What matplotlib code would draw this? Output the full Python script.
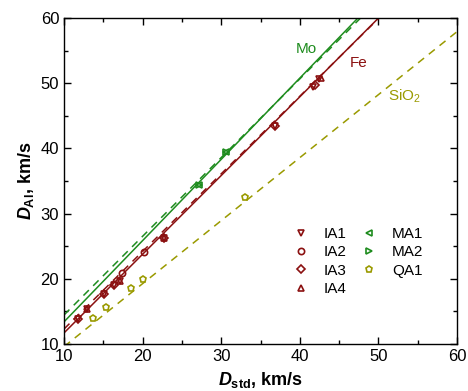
import numpy as np
import matplotlib
matplotlib.use("Agg")
import matplotlib.pyplot as plt

plt.rcParams['font.family'] = ['Liberation Sans', 'DejaVu Sans']
plt.rcParams['mathtext.fontset'] = 'custom'
plt.rcParams['mathtext.rm'] = 'Liberation Sans:bold'
plt.rcParams['mathtext.it'] = 'Liberation Sans:italic:bold'
plt.rcParams['mathtext.bf'] = 'Liberation Sans:bold'

c_fe = '#8b1010'
c_mo = '#1e8c1e'
c_si = '#9a9a00'

# данные (км/с)
ia1_x = [11.8, 12.97, 15.1, 16.3, 17.1, 22.7, 36.8, 41.7, 42.5]
ia1_y = [13.8, 15.4, 17.7, 19.05, 19.66, 26.3, 43.5, 49.4, 50.6]
ia2_x = [17.4, 20.2]
ia2_y = [20.84, 24.1]
ia3_x = [11.8, 15.1, 16.3, 22.7, 36.8, 41.9]
ia3_y = [13.8, 17.7, 19.05, 26.3, 43.5, 49.7]
ia4_x = [12.97, 17.1, 22.7, 42.7]
ia4_y = [15.4, 19.66, 26.3, 50.8]
ma1_x = [27.2, 30.6]
ma1_y = [34.4, 39.4]
ma2_x = [27.2, 30.6]
ma2_y = [34.4, 39.4]
qa1_x = [13.65, 15.34, 18.5, 20.0, 33.0]
qa1_y = [14.0, 15.6, 18.6, 19.9, 32.6]

# прямые: (D при 10 км/с, наклон)
mo_fit = (13.4, 1.246)
mo_dash = (14.45, 1.207)
fe_fit = (11.7, 1.207)
fe_dash = (12.3, 1.19)
si_dash = (9.6, 0.966)

fig = plt.figure(figsize=(4.68, 3.91), dpi=100)
ax = fig.add_axes([0.1368, 0.1202, 0.8397, 0.8338])

xx = np.linspace(10, 60, 200)
def line(p):
    return p[0] + p[1] * (xx - 10)

ax.plot(xx, line(mo_fit), color=c_mo, lw=1.1)
ax.plot(xx, line(mo_dash), color=c_mo, lw=1.1, ls=(0, (5, 4)))
ax.plot(xx, line(fe_fit), color=c_fe, lw=1.1)
ax.plot(xx, line(fe_dash), color=c_fe, lw=1.1, ls=(0, (5, 4)))
ax.plot(xx, line(si_dash), color=c_si, lw=1.1, ls=(0, (5, 4)))

ms = 7
kw = dict(ls='none', mfc='none', mew=1.5, ms=ms)
ax.plot(ia1_x, ia1_y, marker='v', color=c_fe, label='IA1', **kw)
ax.plot(ia2_x, ia2_y, marker='o', color=c_fe, label='IA2', **kw)
ax.plot(ia3_x, ia3_y, marker='D', color=c_fe, label='IA3', ls='none', mfc='none', mew=1.5, ms=6)
ax.plot(ia4_x, ia4_y, marker='^', color=c_fe, label='IA4', **kw)
ax.plot(ma1_x, ma1_y, marker='<', color=c_mo, label='MA1', **kw)
ax.plot(ma2_x, ma2_y, marker='>', color=c_mo, label='MA2', **kw)
ax.plot(qa1_x, qa1_y, marker='p', color=c_si, label='QA1', **kw)

h, l = ax.get_legend_handles_labels()
for hh in h:
    hh.set_markersize(4.5)
    hh.set_markeredgewidth(1.2)
leg = ax.legend(h, l, ncol=2,
                loc='lower left', bbox_to_anchor=(0.545, 0.105), frameon=False,
                fontsize=11, handlelength=1.2, handletextpad=0.9,
                columnspacing=0.85, labelspacing=0.28)

ax.text(40.85, 55.25, 'Mo', color=c_mo, fontsize=11, ha='center', va='center')
ax.text(47.47, 53.1, 'Fe', color=c_fe, fontsize=11, ha='center', va='center')
ax.text(53.3, 48.0, 'SiO$_\\mathregular{2}$', color=c_si, fontsize=11, ha='center', va='center')

ax.set_xlim(10, 60)
ax.set_ylim(10, 60)
ax.set_xticks([10, 20, 30, 40, 50, 60])
ax.set_yticks([10, 20, 30, 40, 50, 60])
ax.set_xticks(np.arange(15, 60, 10), minor=True)
ax.set_yticks(np.arange(15, 60, 10), minor=True)
ax.tick_params(which='both', direction='in', top=True, right=True, labelsize=12,
               width=1.0)
ax.tick_params(which='major', length=5)
ax.tick_params(which='minor', length=3)
for s in ax.spines.values():
    s.set_linewidth(1.0)

ax.set_xlabel(r'$D_{\mathbf{std}}$, km/s', fontsize=13, fontweight='bold', labelpad=4.5)
ax.set_ylabel(r'$D_{\mathbf{Al}}$, km/s', fontsize=13, fontweight='bold', labelpad=3)

fig.savefig('out.png', dpi=100)
